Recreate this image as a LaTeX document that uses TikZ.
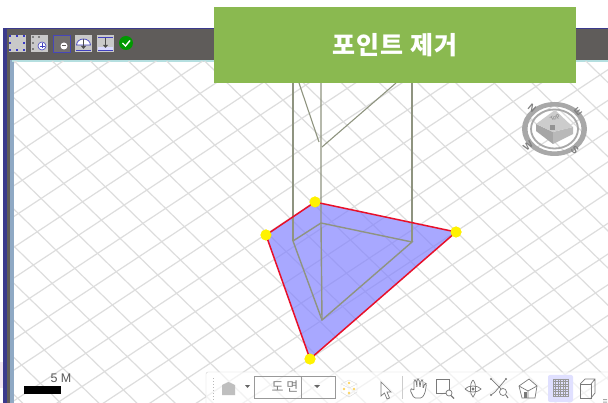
\documentclass[tikz,border=0pt]{standalone}
\usepackage{fontspec}
\setmainfont{Liberation Sans}
\newfontfamily\krfont{Noto Sans CJK KR}
\definecolor{barg}{HTML}{5F5C5A}
\definecolor{navyb}{HTML}{3B3A8C}
\definecolor{stripb}{HTML}{8FA9C4}
\definecolor{cyanl}{HTML}{B5DFE0}
\definecolor{gridg}{HTML}{DDDDDD}
\definecolor{wire}{HTML}{8F9480}
\definecolor{greenb}{HTML}{8AB950}
\definecolor{polyb}{HTML}{8080FF}
\definecolor{redl}{HTML}{E8102A}
\definecolor{icong}{HTML}{C9C9C9}
\definecolor{icond}{HTML}{7A7A7A}
\definecolor{compg}{HTML}{A8A8A8}
\tikzset{
 gridline/.style={draw=gridg,line width=1.2pt},
 wireline/.style={draw=wire,line width=1.4pt},
 edgeline/.style={draw=redl,line width=1.5pt},
 dot/.style={circle,fill=yellow,inner sep=0pt,minimum size=11pt},
 toolicon/.style={draw=icond,line width=.7pt},
}
\begin{document}
\begin{tikzpicture}[x=1pt,y=-1pt]
\useasboundingbox (0,0) rectangle (608,403);
\fill[white] (0,0) rectangle (608,403);
\fill[violet!10] (0,362) rectangle (3,388);
% window frame
\fill[navyb] (3,28) rectangle (608,403);
\fill[barg] (7,29) rectangle (608,60);
\fill[barg] (7,60) rectangle (10,403);
\fill[stripb] (10,60) rectangle (14,403);
\fill[white] (14,60) rectangle (608,403);
\fill[cyanl] (12,60) rectangle (608,62);
% ground grid
\begin{scope}
\clip (14,62) rectangle (608,403);
\foreach \k in {-30,...,30}{
  \draw[gridline] ({34+22.7*\k-18.8*40},{80.3-15*\k-18.3*40}) -- ({34+22.7*\k+18.8*40},{80.3-15*\k+18.3*40});
  \draw[gridline] ({34+18.8*\k-22.7*40},{80.3+18.3*\k+15*40}) -- ({34+18.8*\k+22.7*40},{80.3+18.3*\k-15*40});
}
\end{scope}
% polygon
\coordinate (w1) at (293,241);
\coordinate (w2) at (321,223);
\coordinate (w3) at (412,242);
\coordinate (w4) at (322,320);
\node[dot] (p1) at (315,202) {};
\node[dot] (p2) at (266,235) {};
\node[dot] (p3) at (310,359) {};
\node[dot] (p4) at (456,232) {};
\fill[polyb,opacity=.68] (p1.center) -- (p2.center) -- (p3.center) -- (p4.center) -- cycle;
% wire frame
\coordinate (t1) at (293,83);
\coordinate (t2) at (321,83);
\coordinate (t3) at (412,83);
\coordinate (t4) at (299,83);
\coordinate (t5) at (396,83);
\coordinate (m1) at (319,142);
\coordinate (m2) at (322,147);
\draw[wireline] (w1) -- (w2) -- (w3) -- (w4) -- cycle;
\draw[wireline] (t1) -- (w1);
\draw[wireline] (t2) -- (w2) -- (w4);
\draw[wireline] (t3) -- (w3);
\draw[wireline,line width=1.1pt] (t4) -- (m1);
\draw[wireline,line width=1.1pt] (t5) -- (m2);
\draw[edgeline] (p1.center) -- (p2.center) -- (p3.center) -- (p4.center) -- cycle;
\node[dot] at (p1) {};\node[dot] at (p2) {};\node[dot] at (p3) {};\node[dot] at (p4) {};
% title
\node[fill=greenb,minimum width=362pt,minimum height=76pt,inner sep=0pt,text=white,font=\krfont\bfseries\fontsize{25}{28}\selectfont\addfontfeature{LetterSpace=5}] (title) at (395,45) {포인트 제거};
% top icons
\foreach \x in {9,31,75,97}{\fill[icong] (\x,35) rectangle +(17,17);}
\fill[barg!88!white] (53,35) rectangle (70,52);
\draw[blue!45!gray,line width=.7pt] (53,35) rectangle (70,52);
\fill[white] (64,46) circle (3.5pt);
\fill[barg] (62,45.5) rectangle (66,46.5);
\foreach \px/\py in {10/36,17/36,24/36,10/43,24/43,10/50,17/50,24/50}{\fill[blue!55!gray] (\px-1,\py-1) rectangle +(2.4,2.4);}
\foreach \px/\py in {33/37,39/37,33/43,33/49}{\fill[gray] (\px-.8,\py-.8) rectangle +(1.8,1.8);}
\draw[blue!50!gray,fill=white,line width=.6pt] (42,46) circle (4pt);
\draw[blue!50!gray,line width=.6pt] (39.5,46) -- (44.5,46) (42,43.5) -- (42,48.5);
\draw[blue!50!gray,fill=white,line width=.7pt] (76.5,45) .. controls (77,37) and (90,37) .. (90.5,45) -- cycle;
\draw[black!70,line width=.8pt] (83.5,39) -- (83.5,48);
\fill[black!70] (81,46) -- (86,46) -- (83.5,49) -- cycle;
\draw[blue!50!gray,line width=.7pt] (76,50) -- (91,50);
\draw[blue!50!gray,line width=.7pt] (98,37) -- (113,37) (98,50) -- (113,50);
\fill[blue!15] (98,47) rectangle (113,50);
\draw[black!70,line width=.8pt] (105.5,38) -- (105.5,47);
\fill[black!70] (103,45) -- (108,45) -- (105.5,48) -- cycle;
\fill[green!60!black] (126,43) circle (7pt);
\draw[white,line width=1.4pt] (122.5,43) -- (125.5,46) -- (130,40.5);
% compass
\fill[compg,even odd rule] (554.5,129) ellipse (32.5pt and 27pt) (554.5,129) ellipse (27pt and 22.5pt);
\draw[compg,line width=1.8pt] (554.5,129) ellipse (23.5pt and 19.5pt);
\fill[gray!70] (536,124) -- (553,132) -- (553,144) -- (536,131) -- cycle;
\fill[gray!55] (553,132) -- (573,127) -- (573,134) -- (553,144) -- cycle;
\fill[gray!40] (536,124) -- (555,110) -- (573,127) -- (553,132) -- cycle;
\fill[gray!85] (550,125) rectangle (555,130);
\node[font=\fontsize{6}{6}\selectfont,text=gray,rotate=35,inner sep=0pt] (topl) at (555,118) {Top};
\node[font=\bfseries\fontsize{10}{10}\selectfont,text=gray,rotate=-40,inner sep=0pt] (cn) at (532,108) {N};
\node[font=\bfseries\fontsize{10}{10}\selectfont,text=gray,rotate=40,inner sep=0pt] (ce) at (578,112) {E};
\node[font=\bfseries\fontsize{10}{10}\selectfont,text=gray,rotate=-40,inner sep=0pt] (cs) at (575,150) {S};
\node[font=\bfseries\fontsize{10}{10}\selectfont,text=gray,rotate=40,inner sep=0pt] (cw) at (528,146) {W};
% scale
\fill[black] (24,386) rectangle (61,394);
\node[font=\fontsize{12.5}{13}\selectfont,text=black!65,inner sep=0pt] (scale) at (61,378.5) {5 M};
% bottom toolbar
\fill[white,opacity=.62,rounded corners=2pt] (206,372) rectangle (610,405);
\draw[gray!35,rounded corners=2pt] (206,405) -- (206,372) -- (610,372);
\foreach \y in {378,381,...,399}{\fill[gray!55] (212.5,\y) rectangle +(1,1);}
\fill[gray!50] (222,385) -- (228.5,382) -- (235,385) -- (235,395) -- (222,395) -- cycle;
\fill[gray!80!black] (245,385) -- (250,385) -- (247.5,388) -- cycle;
\node[draw=gray!80,minimum width=81pt,minimum height=22pt,inner sep=0pt,anchor=west,line width=.7pt] (combo) at (254,387) {};
\draw[gray!80] (301,376) -- (301,398);
\node[font=\krfont\fontsize{13}{13}\selectfont,text=black!50,inner sep=0pt] (combotxt) at (285,387) {도 면};
\fill[gray!80!black] (314,385) -- (320,385) -- (317,388) -- cycle;
% dice
\draw[gray!30] (349,380) -- (357,384) -- (357,392) -- (349,397) -- (341,392) -- (341,384) -- cycle;
\draw[gray!30] (341,384) -- (349,388) -- (357,384) (349,388) -- (349,397);
\foreach \px/\py in {349/383,344/389,354/389,349/393}{\fill[yellow!50!orange!60] (\px,\py) circle (1.3pt);}
% cursor
\draw[toolicon,fill=white] (381,382) -- (381,396) -- (384.5,393) -- (387,399) -- (389.5,398) -- (387,392) -- (391,392) -- cycle;
\draw[gray!40] (402,376) -- (402,399);
% hand
\draw[toolicon,fill=white,rounded corners=1.5pt] (414,398) -- (410,390) -- (412,388) -- (414,391) -- (414,380) -- (416,380) -- (417,388) -- (417,379) -- (419,379) -- (420,388) -- (421,380) -- (423,380) -- (423,389) -- (425,383) -- (426.5,384) -- (425,393) -- (422,398) -- cycle;
% zoom box
\draw[toolicon] (436,379) rectangle (449,393);
\draw[toolicon,fill=white] (449,393) circle (3pt);
\draw[toolicon,line width=1.1pt] (451,395.5) -- (454,398.5);
% orbit
\draw[toolicon] (473,380) .. controls (469,384) and (470,395) .. (473,397) .. controls (476,395) and (477,384) .. (473,380);
\draw[toolicon] (465,389) .. controls (468,385) and (478,385) .. (481,389) .. controls (478,393) and (468,393) .. (465,389);
\fill[icond] (473,389) circle (1.6pt);
% fit
\draw[toolicon] (491,379) -- (504,392) (506,379) -- (495,392) (491,395) -- (495,392);
\foreach \px/\py in {491/379,506/379,491/395}{\fill[icond] (\px,\py) circle (1.2pt);}
\draw[toolicon,fill=white] (503,392) circle (3.5pt);
\draw[toolicon,line width=1.1pt] (506,395) -- (508,398);
% home
\draw[toolicon,fill=white] (519,386) -- (529,379) -- (537,386) -- (535,398) -- (522,398) -- cycle;
\draw[toolicon] (519,386) -- (528,391) -- (537,386) (528,391) -- (528,398);
\fill[icond] (524,392) rectangle (527,398);
% grid button
\fill[blue!12,rounded corners=2pt] (548,375) rectangle (573,402);
\foreach \gx in {553,555.5,...,568}{\draw[gray!80,line width=.45pt] (\gx,379) -- (\gx,396);}
\foreach \gy in {379,381.5,...,396}{\draw[gray!80,line width=.45pt] (553,\gy) -- (568,\gy);}
\draw[gray!80,line width=.5pt] (553,379) rectangle (568,396);
% cube
\draw[toolicon] (580,384) rectangle (591,398);
\draw[toolicon] (580,384) -- (585,379) -- (595,379) -- (595,393) -- (591,398) (591,384) -- (595,379);
\fill[gray!70] (603,399) rectangle (607,400) (603,401.5) rectangle (607,402.5);
\end{tikzpicture}
\end{document}
